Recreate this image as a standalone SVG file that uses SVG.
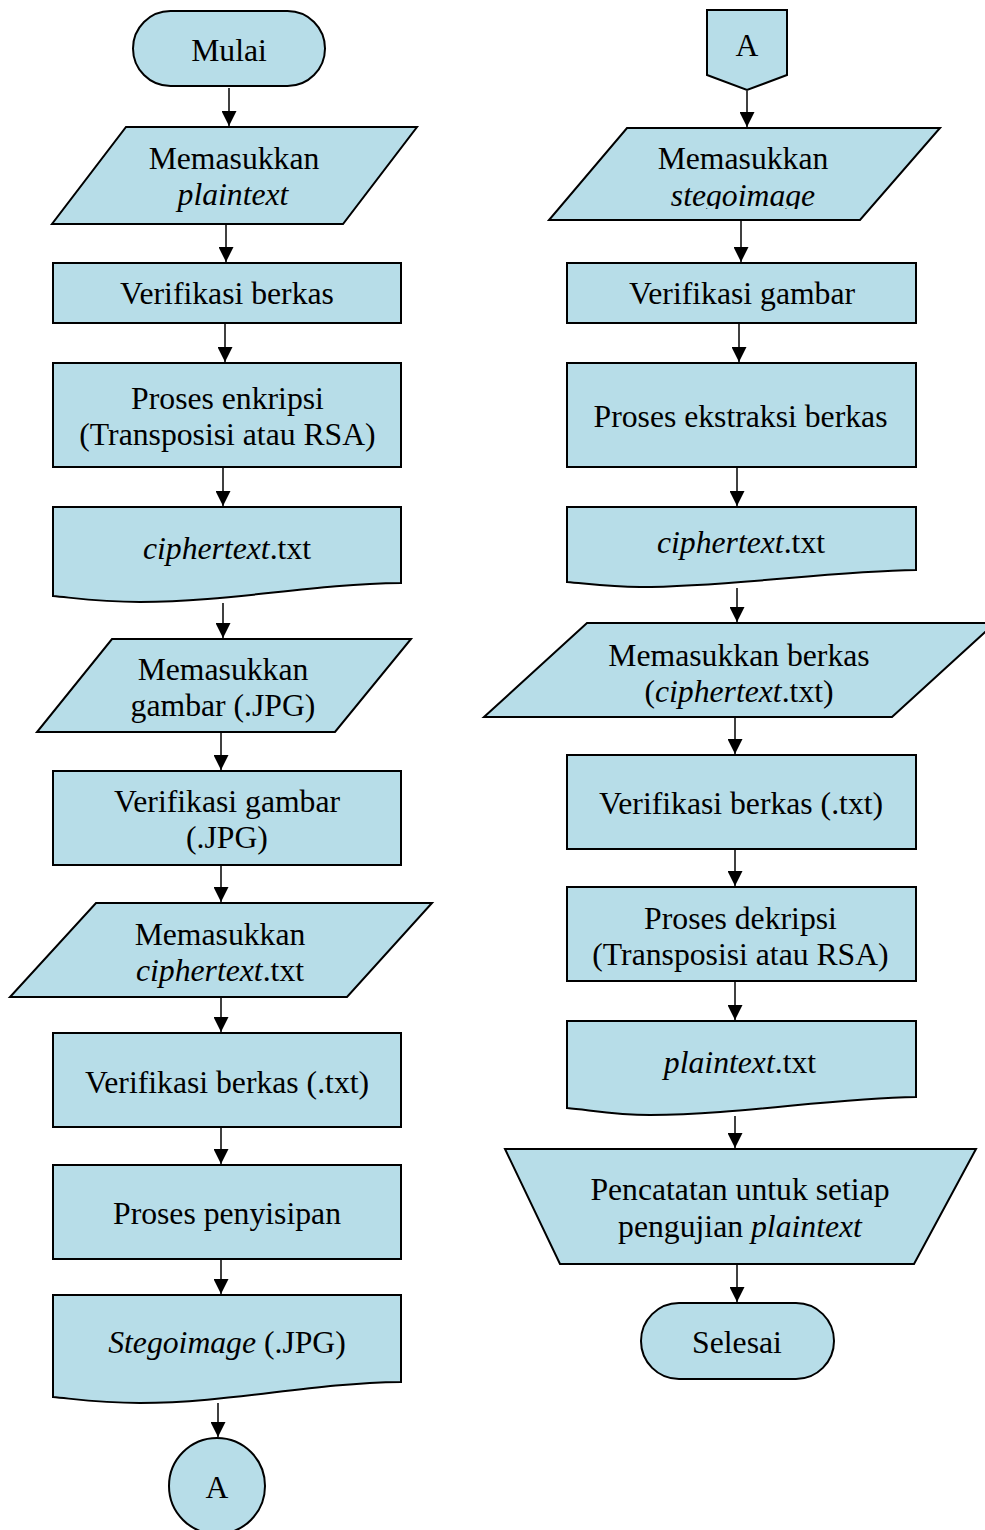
<svg xmlns="http://www.w3.org/2000/svg" width="985" height="1530" viewBox="0 0 985 1530">
<style>
.s{fill:#b7dde8;stroke:#000;stroke-width:2;stroke-linejoin:miter}
.c{fill:none;stroke:#000;stroke-width:1.5;marker-end:url(#ah)}
text{font-family:"Liberation Serif","Times New Roman",serif;font-size:31.7px;fill:#000;text-anchor:middle}
.i{font-style:italic}
</style>
<defs>
<marker id="ah" markerUnits="userSpaceOnUse" markerWidth="15" markerHeight="15" refX="15" refY="7.5" orient="auto">
<path d="M0,0 L15,7.5 L0,15 Z" fill="#000"/>
</marker>
<clipPath id="clipStego"><rect x="549" y="128" width="400" height="81"/></clipPath>
</defs>
<rect width="985" height="1530" fill="#fff"/>

<g id="connectors">
<path class="c" d="M229,88 V126"/>
<path class="c" d="M226,225 V262"/>
<path class="c" d="M225,324 V362"/>
<path class="c" d="M223,468 V506"/>
<path class="c" d="M223,603 V638"/>
<path class="c" d="M221,733 V770"/>
<path class="c" d="M221,866 V902"/>
<path class="c" d="M221,998 V1032"/>
<path class="c" d="M221,1128 V1164"/>
<path class="c" d="M221,1260 V1294"/>
<path class="c" d="M218,1403 V1437"/>
<path class="c" d="M747,91 V127"/>
<path class="c" d="M741,221 V262"/>
<path class="c" d="M739,324 V362"/>
<path class="c" d="M737,468 V506"/>
<path class="c" d="M737,588 V622"/>
<path class="c" d="M735,718 V754"/>
<path class="c" d="M735,850 V886"/>
<path class="c" d="M735,982 V1020"/>
<path class="c" d="M735,1116 V1148"/>
<path class="c" d="M737,1265 V1302"/>
</g>

<g id="n-mulai">
<rect class="s" x="133" y="11" width="192" height="75" rx="37.5" ry="37.5"/>
<text x="229" y="61">Mulai</text>
</g>
<g id="n-input-plaintext">
<polygon class="s" points="126,127 417,127 343,224 52,224"/>
<text x="234" y="169">Memasukkan</text>
<text x="233" y="205" class="i">plaintext</text>
</g>
<g id="n-verif-berkas">
<rect class="s" x="53" y="263" width="348" height="60"/>
<text x="227" y="303.5">Verifikasi berkas</text>
</g>
<g id="n-enkripsi">
<rect class="s" x="53" y="363" width="348" height="104"/>
<text x="227.5" y="408.5">Proses enkripsi</text>
<text x="227.5" y="444.5">(Transposisi atau RSA)</text>
</g>
<g id="n-ciphertext-left">
<path class="s" d="M53,507 H401 V583 C310,584 230,602 140,602 C100,602 75,598 53,596 Z"/>
<text x="227" y="558.5"><tspan class="i">ciphertext</tspan>.txt</text>
</g>
<g id="n-input-gambar">
<polygon class="s" points="112,639 411,639 335,732 37,732"/>
<text x="223" y="680">Memasukkan</text>
<text x="223" y="716">gambar (.JPG)</text>
</g>
<g id="n-verif-gambar-jpg">
<rect class="s" x="53" y="771" width="348" height="94"/>
<text x="227" y="811.5">Verifikasi gambar</text>
<text x="227" y="847.5">(.JPG)</text>
</g>
<g id="n-input-ciphertext">
<polygon class="s" points="96,903 432,903 347,997 10,997"/>
<text x="220" y="945">Memasukkan</text>
<text x="220" y="980.5"><tspan class="i">ciphertext</tspan>.txt</text>
</g>
<g id="n-verif-txt-left">
<rect class="s" x="53" y="1033" width="348" height="94"/>
<text x="227" y="1092.5">Verifikasi berkas (.txt)</text>
</g>
<g id="n-penyisipan">
<rect class="s" x="53" y="1165" width="348" height="94"/>
<text x="227" y="1223.5">Proses penyisipan</text>
</g>
<g id="n-stegoimage">
<path class="s" d="M53,1295 H401 V1382 C310,1383 230,1403 140,1403 C100,1403 75,1399 53,1397 Z"/>
<text x="227" y="1352.5"><tspan class="i">Stegoimage</tspan> (.JPG)</text>
</g>
<g id="n-connector-a-left">
<circle class="s" cx="217" cy="1486" r="48"/>
<text x="217" y="1497.5">A</text>
</g>

<g id="n-offpage-a">
<polygon class="s" points="707,10 787,10 787,75 747,90 707,75"/>
<text x="747" y="56">A</text>
</g>
<g id="n-input-stegoimage">
<polygon class="s" points="627,128 940,128 860,220 549,220"/>
<text x="743" y="169">Memasukkan</text>
<text x="743" y="206" class="i" clip-path="url(#clipStego)">stegoimage</text>
</g>
<g id="n-verif-gambar">
<rect class="s" x="567" y="263" width="349" height="60"/>
<text x="742" y="303.5">Verifikasi gambar</text>
</g>
<g id="n-ekstraksi">
<rect class="s" x="567" y="363" width="349" height="104"/>
<text x="740.5" y="427">Proses ekstraksi berkas</text>
</g>
<g id="n-ciphertext-right">
<path class="s" d="M567,507 H916 V570 C830,571 730,587 640,587 C610,587 590,584 567,582 Z"/>
<text x="741" y="553"><tspan class="i">ciphertext</tspan>.txt</text>
</g>
<g id="n-input-berkas">
<polygon class="s" points="587,623 995,623 892,717 484,717"/>
<text x="739" y="666">Memasukkan berkas</text>
<text x="739" y="702">(<tspan class="i">ciphertext</tspan>.txt)</text>
</g>
<g id="n-verif-txt-right">
<rect class="s" x="567" y="755" width="349" height="94"/>
<text x="741" y="813.5">Verifikasi berkas (.txt)</text>
</g>
<g id="n-dekripsi">
<rect class="s" x="567" y="887" width="349" height="94"/>
<text x="740.5" y="929">Proses dekripsi</text>
<text x="740.5" y="965">(Transposisi atau RSA)</text>
</g>
<g id="n-plaintext-txt">
<path class="s" d="M567,1021 H916 V1097 C830,1098 740,1115 650,1115 C615,1115 590,1110 567,1108 Z"/>
<text x="740" y="1073"><tspan class="i">plaintext</tspan>.txt</text>
</g>
<g id="n-pencatatan">
<polygon class="s" points="505,1149 976,1149 914,1264 560,1264"/>
<text x="740" y="1200">Pencatatan untuk setiap</text>
<text x="740" y="1237">pengujian <tspan class="i">plaintext</tspan></text>
</g>
<g id="n-selesai">
<rect class="s" x="641" y="1303" width="193" height="76" rx="38" ry="38"/>
<text x="737" y="1352.5">Selesai</text>
</g>
</svg>
